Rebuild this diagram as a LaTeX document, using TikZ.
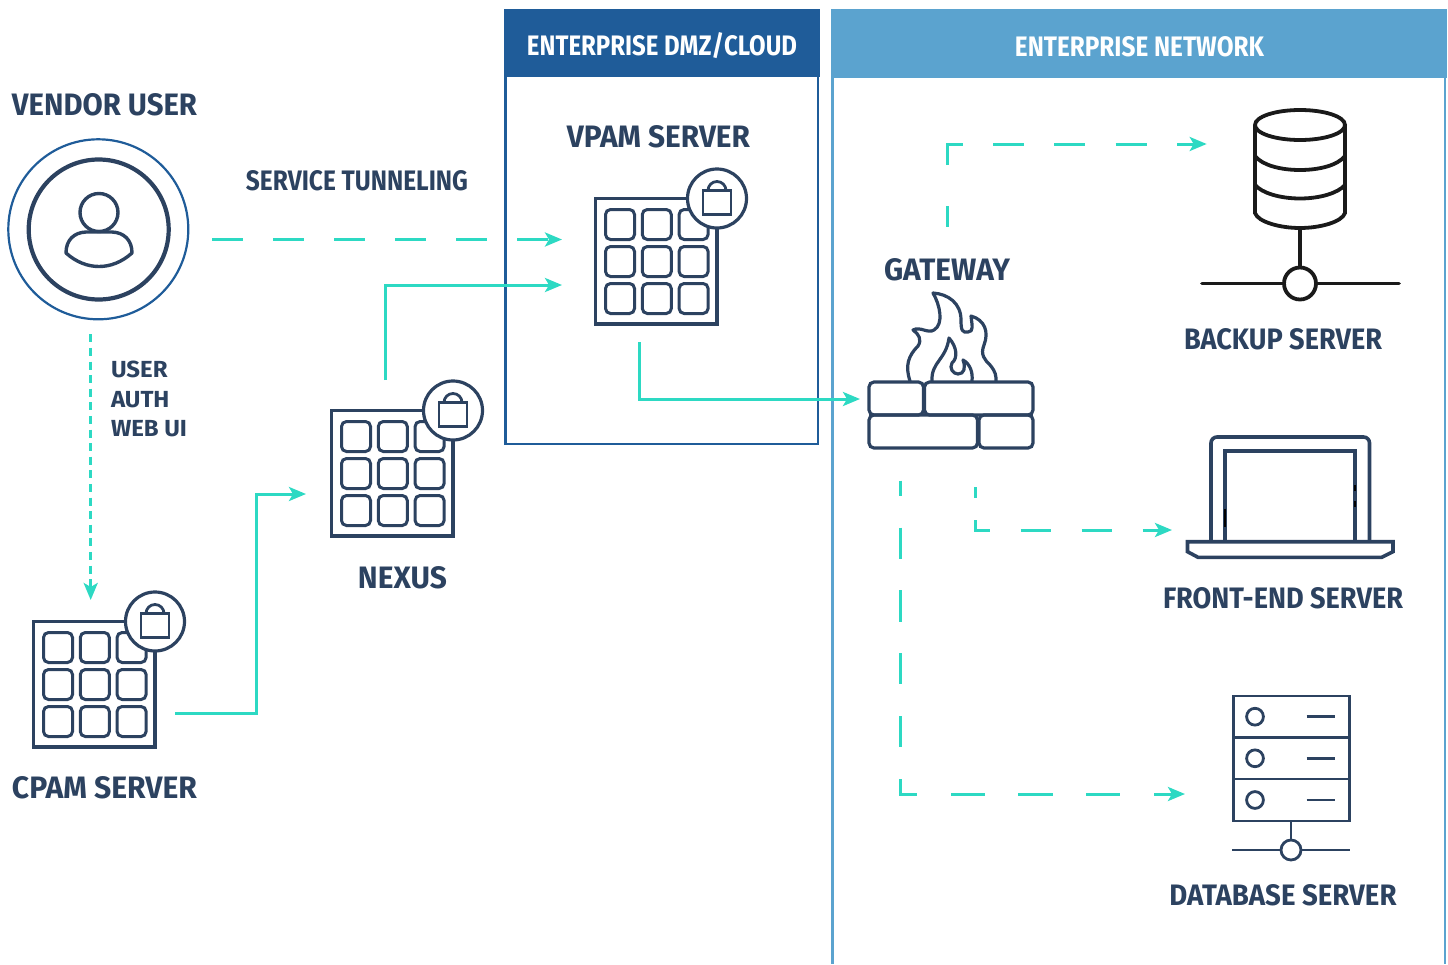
\documentclass[tikz,border=0pt]{standalone}
\usepackage{fontspec}
\usepackage{graphicx}
\setmainfont{Fira Sans}
\usetikzlibrary{arrows.meta,calc}
\definecolor{ink}{HTML}{2C4260}
\definecolor{teal}{HTML}{2DD9C3}
\definecolor{dmz}{HTML}{1F5C99}
\definecolor{net}{HTML}{5BA3CF}
\definecolor{blk}{HTML}{1A1A1A}
\newcommand{\fitlabel}[3]{\resizebox{#1pt}{#2pt}{\bfseries #3}}
\tikzset{
  every node/.style={inner sep=0pt,outer sep=0pt},
  lbl/.style={text=ink,anchor=center},
  hdr/.style={text=white,anchor=center},
  conn/.style={draw=teal,line width=3pt,-{Stealth[length=17pt,width=14pt,inset=4pt]}},
  icon/.style={draw=ink,line width=3.2pt,line join=miter},
  lockline/.style={draw=ink,line width=2.8pt},
  cell/.style={draw=ink,line width=3pt,rounded corners=5pt},
  pics/panel/.style={code={
    \foreach \cx in {0,1,2} \foreach \cy in {0,1,2}
      \draw[cell] ({10+\cx*36.8},{11+\cy*37}) rectangle ++(29,30);
    \draw[icon] (0,0) rectangle (121.5,125.5);
    \draw[icon,fill=white] (121.5,0) circle[radius=29.5];
    \draw[lockline] (107.5,-8) rectangle (135.5,16);
    \draw[lockline] (112.5,-8) arc[start angle=180,end angle=0,x radius=9,y radius=-9];
  }}
}
\begin{document}
\begin{tikzpicture}[x=1pt,y=-1pt]
\useasboundingbox (0,0) rectangle (1448,964);
% zones
\draw[dmz,line width=2.5pt] (505.5,70) rectangle (818,444);
\fill[dmz] (504,8.5) rectangle (820,77);
\node[hdr] (dmzTitle) at (662,46) {\fitlabel{270}{20}{ENTERPRISE DMZ\smash{/}CLOUD}};
\draw[net,line width=2.5pt] (832.5,70) -- (832.5,964);
\draw[net,line width=2.5pt] (1445,70) -- (1445,964);
\fill[net] (831,8.5) rectangle (1447,78);
\node[hdr] (netTitle) at (1139.5,47) {\fitlabel{249}{20}{ENTERPRISE NETWORK}};
% vendor user
\node[lbl] (vendorLabel) at (104.5,105) {\fitlabel{185}{22}{VENDOR USER}};
\node[draw=dmz,line width=2.2pt,circle,minimum size=180pt] (vendor) at (98.3,229.3) {};
\node[draw=ink,line width=4.2pt,circle,minimum size=140pt] (vendorInner) at (98.7,229.5) {};
\draw[ink,line width=3.4pt] (99,212.5) circle[radius=19];
\draw[ink,line width=3.4pt,line join=round] (66,253) .. controls (66,240) and (74,232.5) .. (86,232) -- (112,232) .. controls (124,232.5) and (132,240) .. (132,253) .. controls (112,271) and (86,271) .. (66,253) -- cycle;
% panels
\pic at (595.5,198.5) {panel};
\pic at (331.5,410.5) {panel};
\pic at (33.5,621.5) {panel};
\node (vpam) at (656,261) [minimum width=122pt,minimum height=126pt] {};
\node (nexus) at (392,473) [minimum width=122pt,minimum height=126pt] {};
\node (cpam) at (94,684) [minimum width=122pt,minimum height=126pt] {};
\node[lbl] (vpamLabel) at (658.5,137) {\fitlabel{183}{22}{VPAM SERVER}};
\node[lbl] (nexusLabel) at (402.5,578) {\fitlabel{89}{22}{NEXUS}};
\node[lbl] (cpamLabel) at (104.5,788) {\fitlabel{185}{22}{CPAM SERVER}};
\node[lbl] (tunnelLabel) at (357,180.5) {\fitlabel{222}{20}{SERVICE TUNNELING}};
\node[lbl,anchor=west] (authLabel) at (111,399) {\resizebox*{76pt}{76pt}{\bfseries\shortstack[l]{USER\\[2.6pt]AUTH\\[2.6pt]WEB UI}}};
% firewall
\node[lbl] (gatewayLabel) at (947,270) {\fitlabel{126}{22}{GATEWAY}};
\begin{scope}[ink,line width=3.2pt,rounded corners=5pt]
\draw (869,382) rectangle (923.5,415);
\draw (924.5,382) rectangle (1033,415);
\draw (869,415) rectangle (977.5,448);
\draw (979,415) rectangle (1033,448);
\end{scope}
\begin{scope}[ink,line width=3.2pt,line join=round,line cap=round]
\draw (910,381) .. controls (905,366) and (908,356) .. (918,346) .. controls (922,340) and (919,334) .. (913,330) .. controls (920,326) and (928,334) .. (934,330) .. controls (944,324) and (940,305) .. (933,293) .. controls (948,294) and (961,303) .. (961,320) .. controls (961,330) and (962,333) .. (968,332) .. controls (974,332) and (972,325) .. (971,316) .. controls (985,320) and (989,332) .. (984,345) .. controls (980,355) and (985,360) .. (990,365) .. controls (996,372) and (996,376) .. (996,381);
\draw (932,381) .. controls (931,362) and (946,360) .. (949,338) .. controls (957,347) and (958,358) .. (952,363) .. controls (949,368) and (953,374) .. (958,374) .. controls (964,374) and (966,368) .. (963,360) .. controls (970,364) and (973,372) .. (972,381);
\end{scope}
\node (gateway) at (951,415) [minimum width=166pt,minimum height=67pt] {};
% backup server
\begin{scope}[blk,line width=3.8pt]
\draw (1300,125) ellipse[x radius=45,y radius=15];
\draw (1255,125) -- (1255,213) .. controls (1258,222) and (1280,228) .. (1300,228) .. controls (1320,228) and (1342,222) .. (1345,213) -- (1345,125);
\draw (1255,156) .. controls (1262,165) and (1280,170) .. (1300,170) .. controls (1320,170) and (1338,165) .. (1345,156);
\draw (1255,185) .. controls (1262,193) and (1280,198.5) .. (1300,198.5) .. controls (1320,198.5) and (1338,193) .. (1345,185);
\draw (1300,228) -- (1300,267);
\draw[line cap=round] (1202,283.5) -- (1399,283.5);
\draw[fill=white] (1300,283.5) circle[radius=16];
\end{scope}
\node[lbl] (backupLabel) at (1283,339) {\fitlabel{198}{21}{BACKUP SERVER}};
\node (backup) at (1300,200) [minimum width=198pt,minimum height=180pt] {};
% laptop
\begin{scope}[ink,line width=3.6pt]
\draw[rounded corners=6pt] (1211,541.5) -- (1211,437) -- (1369.5,437) -- (1369.5,541.5);
\draw (1225,541.5) -- (1225,451) -- (1355,451) -- (1355,541.5);
\draw (1187.5,541.7) -- (1393,541.7) -- (1393,551.7) -- (1381.7,557.3) -- (1198,557.3) -- (1187.5,551.7) -- cycle;
\end{scope}
\draw[black,line width=1.6pt] (1355,485) -- (1355,491) (1355,501) -- (1355,507) (1225,508.5) -- (1225,527);
\node[lbl] (frontLabel) at (1283,598) {\fitlabel{240}{21}{FRONT-END SERVER}};
\node (front) at (1290,497) [minimum width=206pt,minimum height=122pt] {};
% database
\begin{scope}[ink,line width=2.8pt]
\draw (1233.5,696) rectangle (1349.5,821);
\draw (1233.5,737.5) -- (1349.5,737.5) (1233.5,779) -- (1349.5,779);
\foreach \yy in {716.7,758.3,800} {
  \draw (1255,\yy) circle[radius=8.4];
  \draw (1306.7,\yy) -- (1335,\yy);
}
\draw (1291,821) -- (1291,840);
\draw (1232,850) -- (1350,850);
\draw[fill=white] (1291,850) circle[radius=10];
\end{scope}
\node[lbl] (dbLabel) at (1283,895) {\fitlabel{227}{21}{DATABASE SERVER}};
\node (db) at (1291,775) [minimum width=118pt,minimum height=160pt] {};
% connector ends
\coordinate (a1) at (212.3,239.5);
\coordinate (a2) at (562,239.5);
\coordinate (b1) at (385,380);
\coordinate (b2) at (562,285);
\coordinate (c1) at (639,342);
\coordinate (c2) at (860,399);
\coordinate (d1) at (175,713);
\coordinate (d2) at (306,494);
\coordinate (e1) at (90.7,334.3);
\coordinate (e2) at (90.7,600);
\coordinate (f1) at (947.3,226.7);
\coordinate (f2) at (1206.7,144);
\coordinate (g1) at (975,487.3);
\coordinate (g2) at (1172,530);
\coordinate (h1) at (900,480.7);
\coordinate (h2) at (1185,794);
\draw[conn,dash pattern=on 30.7pt off 30.3pt] (a1) -- (a2);
\draw[conn] (b1) |- (b2);
\draw[conn] (c1) |- (c2);
\draw[conn] (d1) -| (256,494) -- (d2);
\draw[conn,dash pattern=on 8pt off 5.6pt] (e1) -- (e2);
\draw[conn,dash pattern=on 20.4pt off 41.3pt on 36.4pt off 30.6pt on 30.7pt off 30.3pt on 30.7pt off 30.7pt on 31pt off 30.3pt on 60pt off 30pt] (f1) |- (f2);
\draw[conn,dash pattern=on 10.7pt off 22pt on 25pt off 30.7pt on 30.3pt off 30.7pt on 30.3pt off 30.7pt on 60pt off 30pt] (g1) |- (g2);
\draw[conn,dash pattern=on 15.5pt off 31.5pt on 31.7pt off 31pt on 32pt off 31pt on 31pt off 32pt on 31pt off 31.7pt on 32pt off 34pt on 34.3pt off 33pt on 35pt off 33pt on 34pt off 34pt on 60pt off 30pt] (h1) |- (h2);
\end{tikzpicture}
\end{document}
